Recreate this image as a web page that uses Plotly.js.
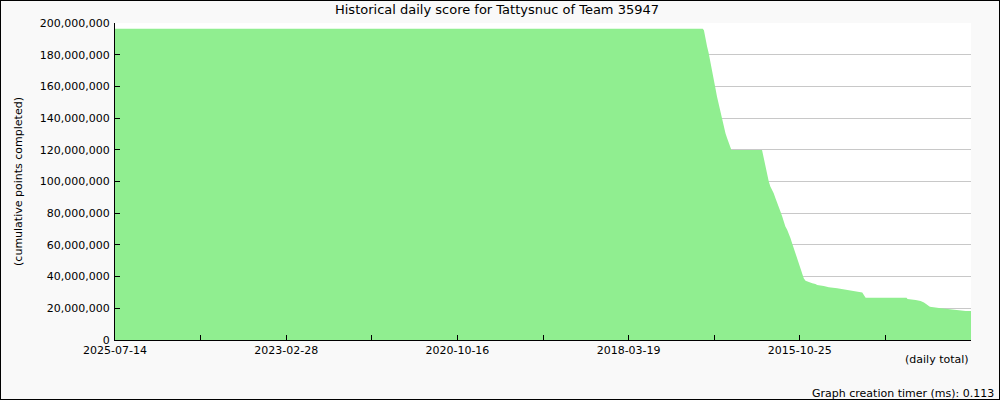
<!DOCTYPE html>
<html>
<head>
<meta charset="utf-8">
<script src="https://cdn.plot.ly/plotly-3.0.1.min.js"></script>
<style>
html,body{margin:0;padding:0;background:#f9f9f9;}
#wrap{width:1000px;height:400px;box-sizing:border-box;border:1px solid #000;background:#f9f9f9;}
#chart{width:998px;height:398px;}
</style>
</head>
<body>
<div id="wrap"><div id="chart"></div></div>
<script>
// Sample index (days back from 2025-07-14, on the chart's evenly spaced sample scale)
var sampleIndex = [0, 2973, 2979, 2986, 2995, 3003, 3012, 3020, 3028, 3037, 3045, 3054, 3062, 3071, 3079, 3088, 3096, 3104, 3113, 3118,
  3273, 3278, 3281, 3290, 3299, 3307, 3315, 3324, 3332, 3341, 3349, 3357, 3366, 3375, 3383, 3391, 3400, 3408, 3417, 3425, 3433,
  3442, 3451, 3459, 3467, 3476, 3484, 3493, 3509, 3527, 3543, 3552, 3585, 3611, 3653, 3679, 3712, 3737, 3780, 3788, 3797,
  4004, 4009, 4050, 4075, 4092, 4109, 4122, 4168, 4210, 4236, 4303, 4333];
// Cumulative points completed (millions)
var scoreMillions = [196.4, 196.4, 195.5, 190.5, 185.2, 181.1, 175.8, 170.5, 164.2, 159.0, 153.6, 148.4, 144.2, 140.0, 135.8, 130.5, 127.4, 124.2, 121.1, 119.9,
  119.9, 116.8, 113.7, 108.4, 103.1, 100.0, 96.8, 94.7, 92.6, 89.5, 86.3, 84.2, 81.0, 77.9, 74.7, 71.6, 69.5, 67.4, 64.2, 61.1, 57.9,
  54.8, 51.6, 48.4, 45.3, 42.1, 39.0, 37.4, 36.4, 35.8, 35.4, 34.7, 34.1, 33.3, 32.6, 32.0, 31.1, 30.5, 29.9, 28.4, 26.7,
  26.7, 25.9, 25.3, 24.6, 23.6, 22.1, 21.0, 20.2, 19.6, 18.9, 18.3, 18.3];
var tickPositions = [0, 433, 866, 1299, 1732, 2165, 2598, 3031, 3464, 3897, 4330];
var tickLabels = ["2025-07-14", "", "2023-02-28", "", "2020-10-16", "", "2018-03-19", "", "2015-10-25", "", ""];

var titleText = "Historical daily score for Tattysnuc of Team 35947";
var yTitle = "(cumulative points completed)";
var xNote = "(daily total)";
var timerNote = "Graph creation timer (ms): 0.113";

var scores = scoreMillions.map(function(v){ return v * 1e6; });

var font = "DejaVu Sans, sans-serif";
var trace = {
  x: sampleIndex, y: scores, type: "scatter", mode: "lines",
  fill: "tozeroy", fillcolor: "#90ee90", line: {width: 0, color: "#90ee90"},
  hoverinfo: "skip"
};
var layout = {
  width: 998, height: 398,
  margin: {l: 114, r: 28, t: 22, b: 59},
  paper_bgcolor: "#f9f9f9", plot_bgcolor: "#ffffff",
  showlegend: false,
  font: {family: font, size: 11, color: "#000"},
  title: {text: titleText, font: {family: font, size: 13, color: "#000"}, x: 0.497, xref: "container", y: 0.99, yanchor: "top", xanchor: "center"},
  xaxis: {
    range: [0, 4330], tickmode: "array", tickvals: tickPositions, ticktext: tickLabels,
    ticks: "inside", ticklen: 5, tickcolor: "#000", showline: true, linecolor: "#000", linewidth: 1,
    showgrid: false, zeroline: false, tickfont: {family: font, size: 11, color: "#000"}, fixedrange: true
  },
  yaxis: {
    range: [0, 200e6], dtick: 20e6, tick0: 0, tickformat: ",d",
    ticks: "inside", ticklen: 5, tickcolor: "#000", showline: true, linecolor: "#000", linewidth: 1,
    showgrid: true, gridcolor: "#c8c8c8", gridwidth: 1, zeroline: false,
    tickfont: {family: font, size: 11, color: "#000"}, ticklabelstandoff: 2,
    title: {text: yTitle, font: {family: font, size: 11, color: "#000"}, standoff: 14}
  },
  annotations: [
    {text: xNote, xref: "paper", yref: "paper", x: 1, y: -0.036, xanchor: "right", yanchor: "top", showarrow: false, font: {family: font, size: 11, color: "#000"}},
    {text: timerNote, xref: "paper", yref: "paper", x: 1.029, y: -0.143, xanchor: "right", yanchor: "top", showarrow: false, font: {family: font, size: 11, color: "#000"}}
  ]
};
Plotly.newPlot("chart", [trace], layout, {displayModeBar: false, staticPlot: true});
</script>
</body>
</html>
